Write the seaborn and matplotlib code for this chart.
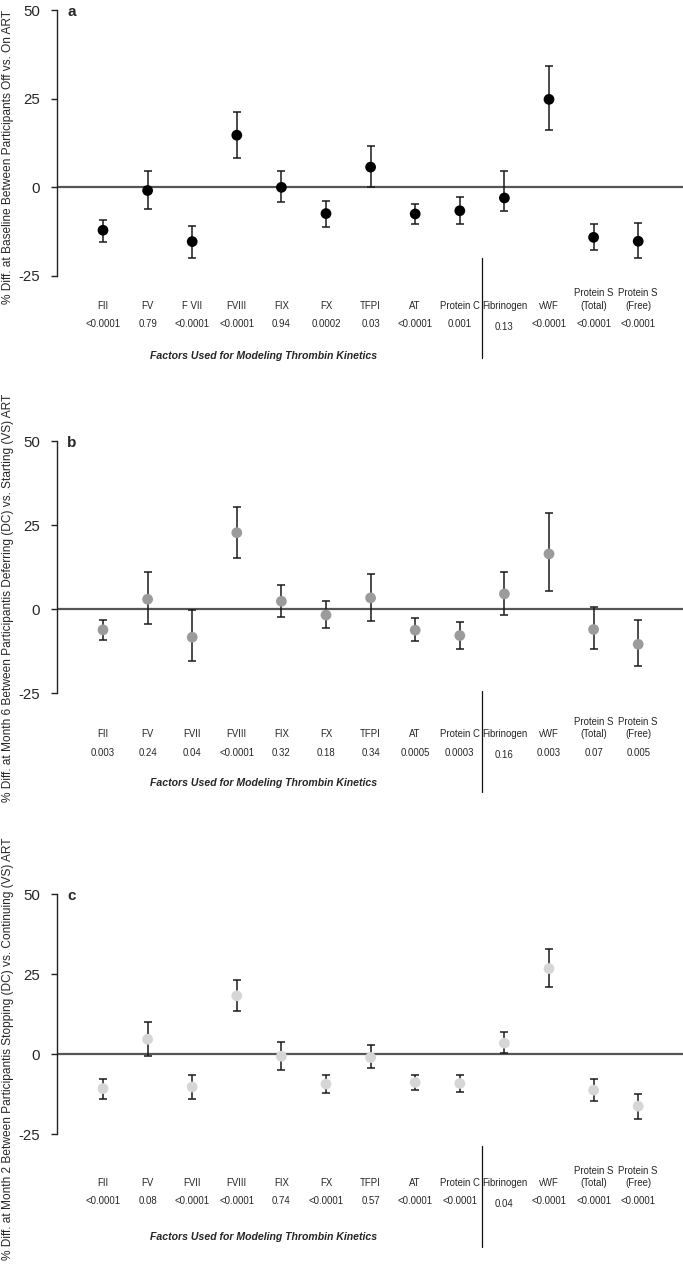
import numpy as np
import pandas as pd
import seaborn as sns
import matplotlib.pyplot as plt
from matplotlib.transforms import blended_transform_factory

sns.set_style("white")
plt.rcParams['font.family'] = ['Liberation Sans', 'DejaVu Sans']
plt.rcParams['axes.unicode_minus'] = False

# ---- data ----
factors_a = ["FII", "FV", "F VII", "FVIII", "FIX", "FX", "TFPI", "AT", "Protein C",
             "Fibrinogen", "vWF", "Protein S\n(Total)", "Protein S\n(Free)"]
factors_bc = ["FII", "FV", "FVII", "FVIII", "FIX", "FX", "TFPI", "AT", "Protein C",
              "Fibrinogen", "vWF", "Protein S\n(Total)", "Protein S\n(Free)"]

pvals_a = ["<0.0001", "0.79", "<0.0001", "<0.0001", "0.94", "0.0002", "0.03", "<0.0001",
           "0.001", "0.13", "<0.0001", "<0.0001", "<0.0001"]
est_a = [-12.1, -0.9, -15.3, 14.7, 0.0, -7.4, 5.7, -7.5, -6.6, -3.0, 24.8, -14.1, -15.2]
lo_a = [-15.4, -6.2, -19.8, 8.4, -4.2, -11.1, 0.2, -10.3, -10.2, -6.6, 16.1, -17.7, -20.0]
hi_a = [-9.1, 4.5, -10.8, 21.3, 4.5, -3.8, 11.7, -4.6, -2.8, 4.5, 34.3, -10.3, -10.1]

pvals_b = ["0.003", "0.24", "0.04", "<0.0001", "0.32", "0.18", "0.34", "0.0005",
           "0.0003", "0.16", "0.003", "0.07", "0.005"]
est_b = [-6.2, 2.9, -8.4, 22.7, 2.3, -1.8, 3.3, -6.3, -7.9, 4.5, 16.4, -6.1, -10.5]
lo_b = [-9.2, -4.6, -15.6, 15.3, -2.3, -5.6, -3.6, -9.6, -12.0, -1.8, 5.3, -12.0, -17.1]
hi_b = [-3.3, 11.0, -0.4, 30.4, 7.2, 2.3, 10.5, -2.8, -3.8, 11.0, 28.6, 0.5, -3.3]

pvals_c = ["<0.0001", "0.08", "<0.0001", "<0.0001", "0.74", "<0.0001", "0.57", "<0.0001",
           "<0.0001", "0.04", "<0.0001", "<0.0001", "<0.0001"]
est_c = [-10.8, 4.6, -10.3, 18.2, -0.7, -9.4, -1.1, -8.9, -9.2, 3.4, 26.7, -11.3, -16.3]
lo_c = [-14.2, -0.5, -14.0, 13.4, -5.0, -12.2, -4.4, -11.3, -12.0, 0.3, 20.8, -14.6, -20.2]
hi_c = [-7.9, 10.0, -6.6, 23.2, 3.6, -6.6, 2.7, -6.6, -6.6, 6.8, 32.9, -7.9, -12.4]

ylabels = ["% Diff. at Baseline Between Participants Off vs. On ART",
           "% Diff. at Month 6 Between Participantis Deferring (DC) vs. Starting (VS) ART",
           "% Diff. at Month 2 Between Participantis Stopping (DC) vs. Continuing (VS) ART"]
letters = ["a", "b", "c"]
xtitle = "Factors Used for Modeling Thrombin Kinetics"

# ---- layout (pixels in a 683x1267 canvas) ----
W, H = 683, 1267
fig = plt.figure(figsize=(W / 100, H / 100), dpi=100)

panels = [
    dict(f=factors_a, p=pvals_a, e=est_a, lo=lo_a, hi=hi_a, color="black",
         y50=10, y25=276, div=(258, 358), names=306, ps=293, pv=324, fib=327, ft=356, yl=157),
    dict(f=factors_bc, p=pvals_b, e=est_b, lo=lo_b, hi=hi_b, color="#9b9b9b",
         y50=441, y25=693, div=(691, 792), names=734, ps=722, pv=753, fib=755, ft=783, yl=598),
    dict(f=factors_bc, p=pvals_c, e=est_c, lo=lo_c, hi=hi_c, color="#d6d6d6",
         y50=894, y25=1134, div=(1146, 1247), names=1183, ps=1171, pv=1201, fib=1204, ft=1237, yl=1049),
]

x0_px, dx_px, left_px = 103, 44.6, 57

for i, pnl in enumerate(panels):
    ax = fig.add_axes([left_px / W, 1 - pnl["y25"] / H, 1 - left_px / W,
                       (pnl["y25"] - pnl["y50"]) / H])
    n = len(pnl["f"])
    df = pd.DataFrame({"x": np.arange(n), "est": pnl["e"], "lo": pnl["lo"], "hi": pnl["hi"]})

    ax.axhline(0, color="#555555", lw=1.6, zorder=1)
    ax.errorbar(df["x"], df["est"], yerr=[df["est"] - df["lo"], df["hi"] - df["est"]],
                fmt="none", ecolor="#1a1a1a", elinewidth=1.1, capsize=2.6, capthick=1.1,
                zorder=2, clip_on=False)
    sns.scatterplot(data=df, x="x", y="est", color=pnl["color"], s=60, edgecolor="none",
                    zorder=3, ax=ax, clip_on=False)

    ax.set_xlim((left_px - x0_px) / dx_px, (W - x0_px) / dx_px)
    ax.set_ylim(-25, 50)
    ax.set_yticks([-25, 0, 25, 50])
    ax.set_xticks([])
    ax.set_xlabel("")
    ax.set_ylabel("")
    for s in ["top", "right", "bottom"]:
        ax.spines[s].set_visible(False)
    ax.spines["left"].set_color("#222222")
    ax.spines["left"].set_linewidth(1.0)
    ax.tick_params(axis="y", direction="out", length=4, width=1.0, color="#222222",
                   labelsize=10.8, pad=8, left=True)
    ax.patch.set_alpha(0)

    tr = blended_transform_factory(ax.transData, fig.transFigure)
    fy = lambda px: 1 - px / H

    for j, (name, pv) in enumerate(zip(pnl["f"], pnl["p"])):
        lines = name.split("\n")
        if len(lines) == 2:
            ax.text(j, fy(pnl["ps"]), lines[0], transform=tr, ha="center", va="center",
                    fontsize=6.9)
            ax.text(j, fy(pnl["names"]), lines[1], transform=tr, ha="center", va="center",
                    fontsize=6.9)
        else:
            ax.text(j, fy(pnl["names"]), name, transform=tr, ha="center", va="center",
                    fontsize=6.9)
        ypv = pnl["fib"] if name == "Fibrinogen" else pnl["pv"]
        ax.text(j, fy(ypv), pv, transform=tr, ha="center", va="center", fontsize=6.9)

    ax.plot([8.5, 8.5], [fy(pnl["div"][0]), fy(pnl["div"][1])], transform=tr,
            color="#111111", lw=0.9, clip_on=False)
    ax.text(3.6, fy(pnl["ft"]), xtitle, transform=tr, ha="center", va="center",
            fontsize=7.6, fontweight="bold", fontstyle="italic")

    fig.text(67 / W, fy(pnl["y50"] + 2), letters[i], fontsize=11, fontweight="bold",
             ha="left", va="center")
    fig.text(8 / W, fy(pnl["yl"]), ylabels[i], rotation=90, ha="center", va="center",
             fontsize=8.6)

fig.savefig("out.png", dpi=100)
